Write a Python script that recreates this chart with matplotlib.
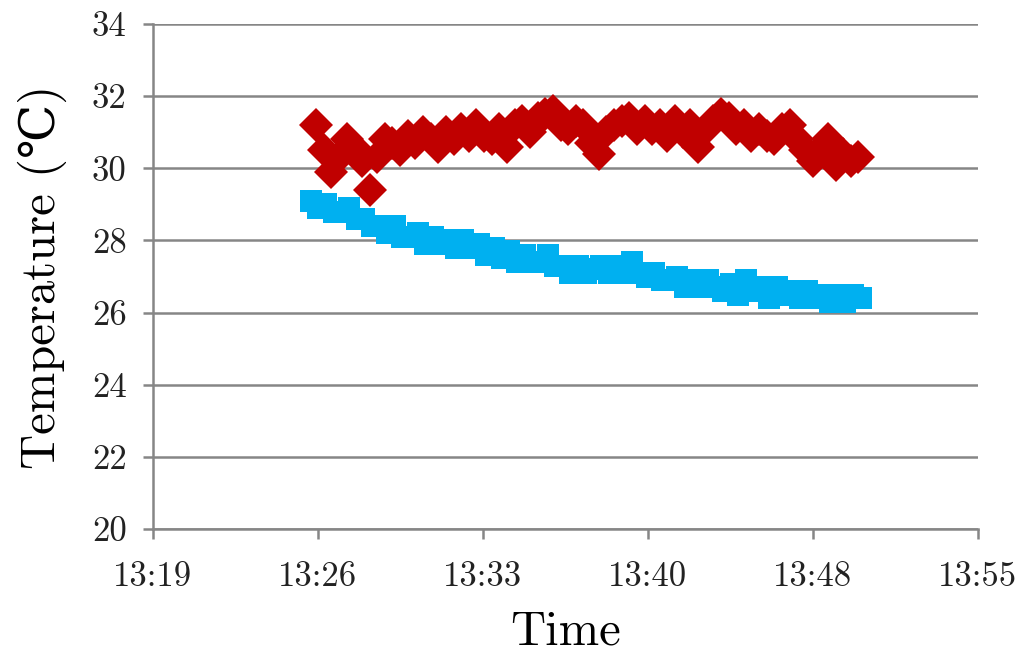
import matplotlib
matplotlib.use("Agg")
import matplotlib.pyplot as plt
import numpy as np

# Logged readings (°C), one sample every 20 s
sample_interval_s = 20
red_start = "13:26:07"
red_temps = [
    31.2, 30.5, 29.9, 30.3, 30.8, 30.6, 30.2, 29.4, 30.3, 30.8,
    30.7, 30.5, 30.9, 30.7, 31.0, 30.8, 30.6, 31.0, 30.8, 31.1,
    30.9, 31.2, 30.9, 30.8, 31.1, 30.6, 31.2, 31.3, 31.0, 31.4,
    31.5, 31.6, 31.2, 31.1, 31.3, 31.2, 30.7, 30.4, 31.0, 31.2,
    31.3, 31.4, 31.1, 31.3, 31.1, 31.2, 30.9, 31.3, 31.0, 31.2,
    30.6, 31.1, 31.3, 31.5, 31.4, 31.1, 31.2, 30.9, 31.1, 30.9,
    30.8, 31.1, 31.2, 30.8, 30.5, 30.2, 30.5, 30.8, 30.1, 30.4,
    30.2, 30.3,
]
blue_start = "13:25:53"
blue_temps = [
    29.1, 28.9, 29.0, 28.8, 28.8, 28.9, 28.6, 28.6, 28.4, 28.4,
    28.2, 28.4, 28.1, 28.1, 28.2, 27.9, 28.1, 27.9, 28.0, 27.8,
    28.0, 27.8, 27.9, 27.6, 27.8, 27.5, 27.7, 27.4, 27.6, 27.4,
    27.4, 27.6, 27.3, 27.3, 27.1, 27.3, 27.1, 27.2, 27.3, 27.1,
    27.3, 27.1, 27.4, 27.1, 27.0, 27.1, 26.9, 26.9, 27.0, 26.7,
    26.9, 26.7, 26.9, 26.7, 26.6, 26.8, 26.5, 26.9, 26.6, 26.7,
    26.4, 26.7, 26.5, 26.6, 26.4, 26.6, 26.4, 26.5, 26.3, 26.5,
    26.3, 26.5, 26.4,
]

axis_start = "13:19"
x_tick_labels = ["13:19", "13:26", "13:33", "13:40", "13:48", "13:55"]
y_ticks = [20, 22, 24, 26, 28, 30, 32, 34]


def to_minutes(t):
    parts = [int(p) for p in t.split(":")]
    while len(parts) < 3:
        parts.append(0)
    h, m, s = parts
    return h * 60 + m + s / 60.0


origin = to_minutes(axis_start)


def sample_times(start, n):
    t0 = to_minutes(start) - origin
    return t0 + np.arange(n) * sample_interval_s / 60.0


red_x = sample_times(red_start, len(red_temps))
blue_x = sample_times(blue_start, len(blue_temps))

plt.rcParams["font.family"] = ["cmr10", "DejaVu Serif"]
plt.rcParams["axes.formatter.use_mathtext"] = True

fig = plt.figure(figsize=(10.3, 6.53), dpi=100)
ax = fig.add_axes([0.1485, 0.1899, 0.8010, 0.7733])

grid_color = "#868686"
ax.plot(blue_x, blue_temps, linestyle="none", marker="s", markersize=15.5,
        markeredgewidth=0, color="#00B0F0", zorder=3)
ax.plot(red_x, red_temps, linestyle="none", marker="D", markersize=17,
        markeredgewidth=0, color="#C00000", zorder=4)

span = 36.0
ax.set_xlim(0, span)
ax.set_ylim(20, 34)
ax.set_xticks(np.linspace(0, span, len(x_tick_labels)))
ax.set_xticklabels(x_tick_labels)
ax.set_yticks(y_ticks)
ax.set_yticklabels([str(v) for v in y_ticks])

ax.yaxis.grid(True, color=grid_color, linewidth=1.8)
ax.set_axisbelow(True)
for side in ("top", "right"):
    ax.spines[side].set_visible(False)
for side in ("left", "bottom"):
    ax.spines[side].set_color(grid_color)
    ax.spines[side].set_linewidth(1.8)

ax.tick_params(axis="both", direction="out", color=grid_color, width=1.8,
               length=7, labelsize=25, labelcolor="#222222")
ax.tick_params(axis="y", pad=12)
ax.tick_params(axis="x", pad=16)

ax.set_xlabel("Time", fontsize=35, labelpad=13)
ax.set_ylabel("Temperature (℃)", fontsize=35, labelpad=18)

fig.savefig("out.png", dpi=100, facecolor="white")
